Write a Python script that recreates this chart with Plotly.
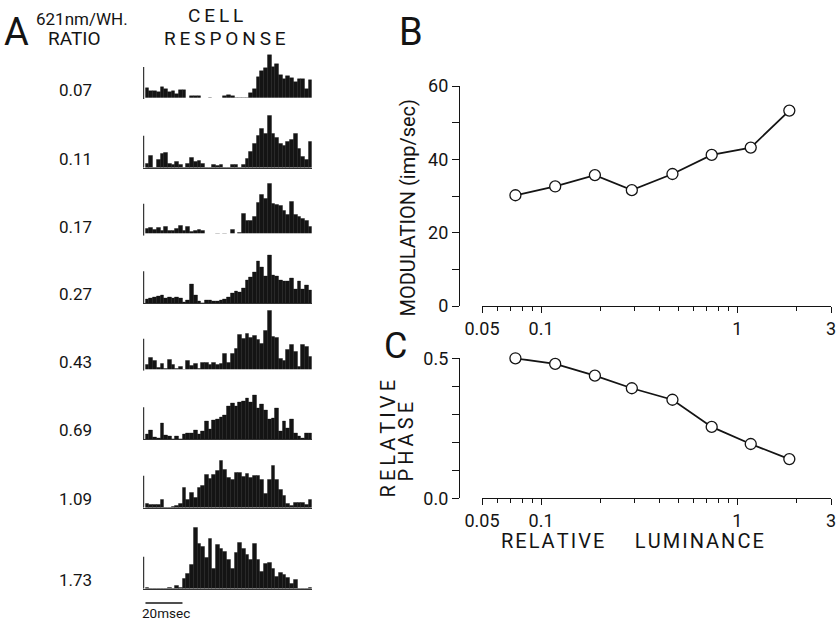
import numpy as np
import plotly.graph_objects as go

W, H = 840, 623
FONT = "Roboto"
INK = "#141414"

# ---------------- Panel A data: PSTHs (2 ms bins, 45 bins = 90 ms) ----------------
ratio_labels = ["0.07", "0.11", "0.17", "0.27", "0.43", "0.69", "1.09", "1.73"]
bin_ms = 2
n_bins = 45
psth_007 = [11, 8, 8, 7, 12, 10, 7, 8, 5, 9, 9, 0, 3, 3, 3, 0, 0, 1, 0, 0, 0, 3, 4, 3, 1, 1, 1, 1, 6, 10,
            22, 28, 31, 44, 32, 35, 24, 20, 23, 21, 17, 20, 20, 10, 19]
psth_011 = [4, 12, 0, 8, 14, 15, 4, 3, 6, 3, 0, 4, 10, 6, 7, 4, 0, 0, 3, 2, 3, 0, 0, 3, 3, 0, 3, 9, 16, 24,
            32, 39, 34, 52, 34, 30, 24, 22, 26, 28, 34, 19, 11, 8, 26]
psth_017 = [7, 8, 6, 8, 5, 9, 5, 5, 7, 10, 5, 9, 4, 5, 6, 5, 1, 0, 0, 2, 1, 2, 0, 6, 0, 3, 22, 15, 15, 19,
            33, 41, 37, 52, 32, 31, 30, 25, 21, 34, 21, 19, 17, 15, 9]
psth_027 = [4, 5, 6, 7, 8, 5, 6, 5, 6, 5, 1, 3, 19, 8, 2, 0, 3, 3, 2, 2, 3, 4, 6, 10, 12, 11, 15, 23, 26, 31,
            42, 36, 27, 48, 28, 27, 23, 22, 22, 25, 14, 22, 14, 18, 13]
psth_043 = [6, 13, 10, 3, 7, 2, 11, 6, 2, 4, 1, 10, 5, 7, 2, 8, 8, 6, 8, 6, 7, 17, 8, 17, 22, 36, 32, 37, 33, 35,
            31, 27, 40, 60, 34, 33, 12, 10, 21, 26, 19, 4, 26, 24, 14]
psth_069 = [5, 9, 2, 1, 16, 4, 3, 0, 3, 0, 5, 6, 6, 9, 5, 8, 18, 10, 19, 20, 22, 24, 33, 36, 33, 37, 38, 41, 37, 44,
            31, 35, 29, 20, 21, 31, 8, 18, 11, 20, 6, 3, 1, 6, 6]
psth_109 = [4, 3, 3, 3, 8, 0, 0, 1, 2, 4, 20, 8, 15, 10, 20, 22, 33, 29, 33, 37, 47, 38, 30, 28, 35, 35, 31, 34, 30, 32,
            32, 28, 14, 28, 42, 28, 18, 12, 4, 2, 5, 5, 5, 3, 8]
psth_173 = [1, 0, 0, 0, 0, 0, 1, 0, 3, 1, 10, 15, 24, 61, 45, 42, 31, 50, 20, 44, 40, 37, 29, 20, 36, 46, 40, 34, 29, 45,
            29, 17, 25, 26, 20, 12, 16, 14, 11, 5, 9, 0, 0, 0, 1]
psths = [psth_007, psth_011, psth_017, psth_027, psth_043, psth_069, psth_109, psth_173]
scale_bar_count = 32      # height of the vertical calibration bar (same units as PSTH)
time_bar_ms = 20          # horizontal calibration bar

# ---------------- Panels B & C data ----------------
rel_luminance = [0.074, 0.118, 0.188, 0.29, 0.467, 0.74, 1.17, 1.84]
modulation = [30.2, 32.6, 35.7, 31.6, 36.0, 41.2, 43.2, 53.3]
rel_phase = [0.50, 0.48, 0.438, 0.393, 0.352, 0.255, 0.194, 0.140]

lum_major = [0.05, 0.1, 1, 3]
lum_major_text = ["0.05", "0.1", "1", "3"]
lum_minor = [0.06, 0.07, 0.08, 0.09, 0.2, 0.3, 0.4, 0.5, 0.6, 0.7, 0.8, 0.9, 2]
mod_ticks = [0, 10, 20, 30, 40, 50, 60]
mod_text = ["0", "", "20", "", "40", "", "60"]
phase_ticks = [0.0, 0.1, 0.2, 0.3, 0.4, 0.5]
phase_text = ["0.0", "", "", "", "", "0.5"]

# ---------------- layout geometry (pixels) ----------------
row_base_px = [99, 167.7, 235.7, 303.3, 370.7, 439.3, 507.7, 588.7]
row_h_px = 70
hist_x_px = (142.7, 312.0)
hist_range = [-1.5, n_bins * bin_ms]


def px_x(p):
    return p / W


def px_y(p):
    return 1 - p / H


fig = go.Figure()
layout = dict(
    width=W, height=H, margin=dict(l=0, r=0, t=0, b=0, pad=0, autoexpand=False),
    paper_bgcolor="white", plot_bgcolor="white", showlegend=False,
    barmode="overlay", bargap=0,
    font=dict(family=FONT, color=INK),
)

times = np.arange(n_bins) * bin_ms + bin_ms / 2
shapes = []
annotations = []


def ann(text, x, y, size, angle=0, xanchor="center"):
    return dict(text=text, x=px_x(x), y=px_y(y), xref="paper", yref="paper",
                showarrow=False, textangle=angle, xanchor=xanchor, yanchor="middle",
                font=dict(family=FONT, size=size, color=INK))


for k, (vals, base) in enumerate(zip(psths, row_base_px)):
    idx = k + 3
    xa, ya = f"x{idx}", f"y{idx}"
    fig.add_trace(go.Bar(x=times, y=vals, width=bin_ms, xaxis=xa, yaxis=ya,
                         marker=dict(color=INK, line=dict(color=INK, width=0.4))))
    layout[f"xaxis{idx}"] = dict(domain=[px_x(hist_x_px[0]), px_x(hist_x_px[1])], range=hist_range,
                                 anchor=ya, showline=True, linecolor="#333", linewidth=1,
                                 ticks="", showticklabels=False, showgrid=False, zeroline=False)
    layout[f"yaxis{idx}"] = dict(domain=[px_y(base), px_y(base - row_h_px)], range=[0, row_h_px],
                                 anchor=xa, visible=False)
    shapes.append(dict(type="line", xref=xa, yref=ya, x0=-1.0, x1=-1.0, y0=0, y1=scale_bar_count,
                       line=dict(color="#333", width=1.2)))
    annotations.append(ann(ratio_labels[k], 75, base - 9, 17))

# time calibration bar under last row
shapes.append(dict(type="line", xref="x10", yref="paper", x0=0, x1=time_bar_ms,
                   y0=px_y(603), y1=px_y(603), line=dict(color=INK, width=1.5)))
annotations.append(ann("20msec", 166, 613, 13.5))

# ---------------- panels B & C ----------------
lum_x_dom = [px_x(482), px_x(831)]
common_x = dict(type="log", range=[np.log10(0.05), np.log10(3)], domain=lum_x_dom,
                showline=True, linecolor=INK, linewidth=1.3, ticks="outside", ticklen=6,
                tickwidth=1.3, tickcolor=INK, tickmode="array", tickvals=lum_major,
                ticktext=lum_major_text, showgrid=False, zeroline=False, automargin=False,
                tickfont=dict(family=FONT, size=18, color=INK),
                minor=dict(tickmode="array", tickvals=lum_minor, ticks="outside", ticklen=4,
                           tickwidth=1.3, tickcolor=INK, showgrid=False))
common_y = dict(anchor="free", position=px_x(459), showline=True, linecolor=INK, linewidth=1.3,
                ticks="outside", ticklen=7, tickwidth=1.3, tickcolor=INK, tickmode="array",
                showgrid=False, zeroline=False, automargin=False,
                tickfont=dict(family=FONT, size=18, color=INK))

layout["xaxis"] = dict(common_x, anchor="y")
layout["yaxis"] = dict(common_y, domain=[px_y(306), px_y(86)], range=[0, 60],
                       tickvals=mod_ticks, ticktext=mod_text)
layout["xaxis2"] = dict(common_x, anchor="y2")
layout["yaxis2"] = dict(common_y, domain=[px_y(498.3), px_y(358.3)], range=[0, 0.5],
                        tickvals=phase_ticks, ticktext=phase_text)

marker = dict(size=11, color="white", line=dict(color=INK, width=1.3))
fig.add_trace(go.Scatter(x=rel_luminance, y=modulation, mode="lines+markers", xaxis="x", yaxis="y",
                         line=dict(color=INK, width=1.8), marker=marker, cliponaxis=False))
fig.add_trace(go.Scatter(x=rel_luminance, y=rel_phase, mode="lines+markers", xaxis="x2", yaxis="y2",
                         line=dict(color=INK, width=1.8), marker=marker, cliponaxis=False))

HAIR = "\u200a"
THIN = "\u2009"


def spaced(word, sep):
    return sep.join(word)


annotations += [
    ann("A", 16, 32, 38),
    ann("621nm/WH.", 82, 19, 17),
    ann("RATIO", 74, 38.5, 19),
    ann(spaced("CELL", THIN), 216, 15, 19),
    ann(spaced("RESPONSE", THIN), 225, 38.5, 19),
    ann("B", 411, 31.5, 38),
    ann("C", 395, 345.5, 36),
    ann("MODULATION (imp/sec)", 407.5, 208, 20, angle=-90),
    ann(spaced("RELATIVE", THIN), 387.5, 439, 20, angle=-90),
    ann(spaced("PHASE", THIN), 405, 441.5, 20, angle=-90),
    ann(spaced("RELATIVE", HAIR) + "\u2003\u2002" + spaced("LUMINANCE", HAIR), 632, 540.5, 20),
]

layout["shapes"] = shapes
layout["annotations"] = annotations
fig.update_layout(**layout)
fig.write_html("out.html")
